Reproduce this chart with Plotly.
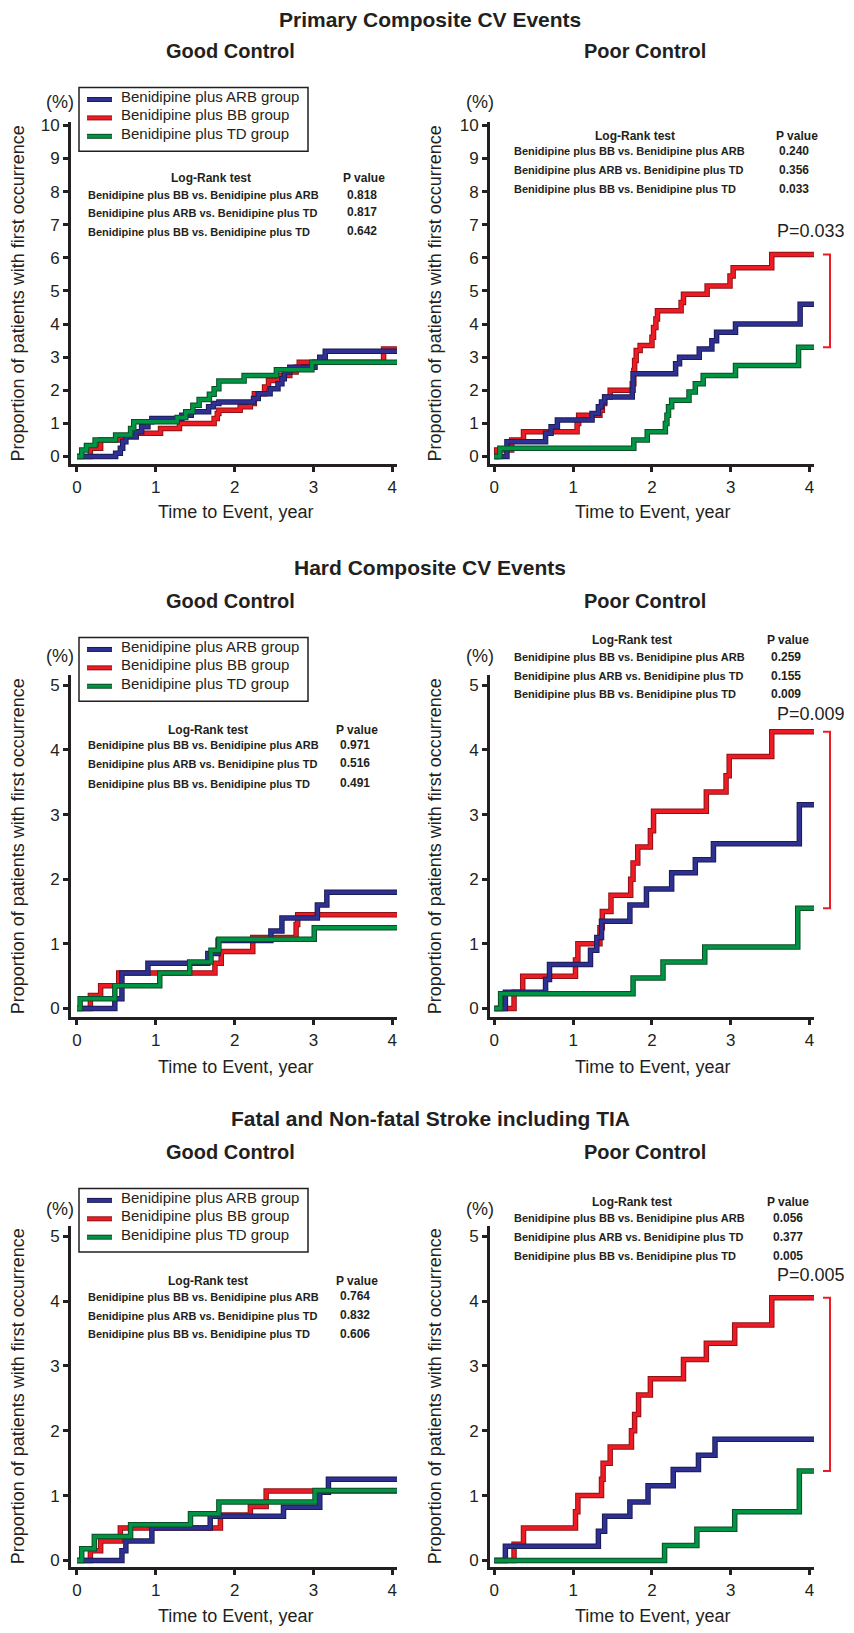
import plotly.graph_objects as go

# Reference canvas is 854 x 1633; the page body adds an 8 px margin, so the
# figure itself is made 8 px smaller and every position is shifted by 8 px.
REF_W, REF_H = 854, 1633
OFF = 8
FIG_W, FIG_H = REF_W - OFF, REF_H - OFF
FONT = "Liberation Sans, Arial, Helvetica, sans-serif"
INK = "#231f20"

# ---------------- data (years, cumulative % with first occurrence) ----------------
END_TIME = 4.07
GROUPS = ["Benidipine plus ARB group", "Benidipine plus BB group", "Benidipine plus TD group"]

# Primary composite CV events - Good control
prim_good_arb_t = [0, 0.49, 0.55, 0.58, 0.62, 0.75, 0.82, 0.90, 0.95, 1.33, 1.45, 1.67, 1.73, 1.80, 2.24, 2.30, 2.45, 2.55, 2.60, 2.63, 2.70, 3.02, 3.08, 3.15]
prim_good_arb_y = [0, 0.10, 0.25, 0.45, 0.60, 0.75, 0.90, 1.05, 1.15, 1.25, 1.35, 1.50, 1.60, 1.65, 1.75, 1.90, 2.05, 2.20, 2.35, 2.55, 2.70, 2.85, 3.00, 3.18]
prim_good_bb_t = [0, 0.17, 0.30, 0.53, 0.75, 1.06, 1.30, 1.74, 1.78, 1.80, 2.07, 2.20, 2.25, 2.38, 2.43, 2.56, 2.70, 2.78, 2.82, 3.89]
prim_good_bb_y = [0, 0.25, 0.50, 0.60, 0.70, 0.85, 1.00, 1.15, 1.30, 1.40, 1.50, 1.60, 1.90, 2.10, 2.30, 2.45, 2.55, 2.70, 2.85, 3.25]
prim_good_td_t = [0, 0.06, 0.12, 0.23, 0.49, 0.68, 0.72, 1.27, 1.38, 1.47, 1.55, 1.68, 1.74, 1.80, 2.12, 2.53, 2.98]
prim_good_td_y = [0, 0.20, 0.33, 0.50, 0.65, 0.85, 1.05, 1.18, 1.35, 1.55, 1.72, 1.88, 2.05, 2.28, 2.45, 2.62, 2.85]

# Primary composite CV events - Poor control
prim_poor_arb_t = [0, 0.16, 0.65, 0.72, 0.80, 1.24, 1.32, 1.36, 1.40, 1.75, 1.76, 2.30, 2.35, 2.60, 2.76, 2.82, 3.06, 3.88]
prim_poor_arb_y = [0, 0.45, 0.70, 0.90, 1.10, 1.30, 1.50, 1.65, 1.80, 2.00, 2.50, 2.80, 3.00, 3.25, 3.50, 3.75, 4.00, 4.60]
prim_poor_bb_t = [0, 0.03, 0.22, 0.37, 1.05, 1.07, 1.34, 1.37, 1.40, 1.47, 1.75, 1.77, 1.78, 1.80, 1.85, 2.00, 2.02, 2.05, 2.07, 2.37, 2.40, 2.70, 2.99, 3.03, 3.52]
prim_poor_bb_y = [0, 0.20, 0.50, 0.75, 1.00, 1.25, 1.40, 1.60, 1.80, 2.00, 2.20, 2.60, 2.90, 3.20, 3.35, 3.60, 3.90, 4.15, 4.40, 4.65, 4.90, 5.15, 5.45, 5.70, 6.10]
prim_poor_td_t = [0, 0.07, 1.77, 1.94, 2.17, 2.19, 2.21, 2.25, 2.47, 2.55, 2.65, 3.06, 3.86]
prim_poor_td_y = [0, 0.25, 0.50, 0.75, 1.00, 1.25, 1.50, 1.70, 1.95, 2.20, 2.45, 2.75, 3.30]

# Hard composite CV events - Good control
hard_good_arb_t = [0, 0.48, 0.57, 0.90, 1.66, 1.79, 2.46, 2.60, 3.05, 3.17]
hard_good_arb_y = [0, 0.15, 0.55, 0.70, 0.85, 1.05, 1.20, 1.40, 1.60, 1.80]
hard_good_bb_t = [0, 0.17, 0.30, 0.53, 1.75, 1.83, 2.23, 2.78, 2.80]
hard_good_bb_y = [0, 0.20, 0.35, 0.55, 0.70, 0.88, 1.10, 1.30, 1.45]
hard_good_td_t = [0, 0.04, 0.48, 1.05, 1.43, 1.70, 1.80, 3.01]
hard_good_td_y = [0, 0.15, 0.35, 0.55, 0.72, 0.90, 1.07, 1.25]

# Hard composite CV events - Poor control
hard_poor_arb_t = [0, 0.14, 0.65, 0.70, 1.22, 1.30, 1.36, 1.72, 1.93, 2.25, 2.55, 2.78, 3.87]
hard_poor_arb_y = [0, 0.25, 0.45, 0.68, 0.90, 1.10, 1.35, 1.60, 1.85, 2.10, 2.30, 2.55, 3.15]
hard_poor_bb_t = [0, 0.25, 0.36, 1.03, 1.06, 1.34, 1.37, 1.48, 1.73, 1.76, 1.82, 1.98, 2.02, 2.69, 2.94, 2.98, 3.52]
hard_poor_bb_y = [0, 0.25, 0.50, 0.75, 1.00, 1.25, 1.50, 1.75, 2.00, 2.25, 2.50, 2.75, 3.05, 3.35, 3.60, 3.90, 4.28]
hard_poor_td_t = [0, 0.08, 1.76, 2.14, 2.67, 3.85]
hard_poor_td_y = [0, 0.23, 0.47, 0.72, 0.95, 1.55]

# Fatal and non-fatal stroke including TIA - Good control
strk_good_arb_t = [0, 0.57, 0.62, 0.95, 1.69, 2.62, 3.08, 3.19]
strk_good_arb_y = [0, 0.15, 0.30, 0.50, 0.68, 0.82, 1.05, 1.25]
strk_good_bb_t = [0, 0.17, 0.30, 0.55, 1.82, 2.20, 2.40]
strk_good_bb_y = [0, 0.15, 0.30, 0.50, 0.70, 0.83, 1.07]
strk_good_td_t = [0, 0.06, 0.22, 0.68, 1.44, 1.80, 3.02]
strk_good_td_y = [0, 0.18, 0.37, 0.55, 0.72, 0.90, 1.08]

# Fatal and non-fatal stroke including TIA - Poor control
strk_poor_arb_t = [0, 0.14, 1.32, 1.40, 1.72, 1.95, 2.27, 2.59, 2.80]
strk_poor_arb_y = [0, 0.22, 0.45, 0.68, 0.90, 1.15, 1.40, 1.62, 1.87]
strk_poor_bb_t = [0, 0.25, 0.37, 1.03, 1.06, 1.36, 1.38, 1.47, 1.74, 1.78, 1.83, 1.98, 2.40, 2.69, 3.05, 3.52]
strk_poor_bb_y = [0, 0.25, 0.50, 0.75, 1.00, 1.25, 1.50, 1.75, 2.00, 2.25, 2.55, 2.80, 3.10, 3.35, 3.63, 4.05]
strk_poor_td_t = [0, 2.16, 2.57, 3.05, 3.87]
strk_poor_td_y = [0, 0.23, 0.48, 0.75, 1.38]

# Log-rank tables
COMPARISONS = ["Benidipine plus BB vs. Benidipine plus ARB",
               "Benidipine plus ARB vs. Benidipine plus TD",
               "Benidipine plus BB vs. Benidipine plus TD"]
prim_good_p = ["0.818", "0.817", "0.642"]
prim_poor_p = ["0.240", "0.356", "0.033"]
hard_good_p = ["0.971", "0.516", "0.491"]
hard_poor_p = ["0.259", "0.155", "0.009"]
strk_good_p = ["0.764", "0.832", "0.606"]
strk_poor_p = ["0.056", "0.377", "0.005"]

SECTION_TITLES = ["Primary Composite CV Events", "Hard Composite CV Events",
                  "Fatal and Non-fatal Stroke including TIA"]
SUBTITLES = ["Good Control", "Poor Control"]
Y_TICKS_PRIMARY = list(range(0, 11))
Y_TICKS_OTHER = list(range(0, 6))
X_TICKS = [0, 1, 2, 3, 4]

# ---------------- styling ----------------
COL = {"ARB": "#2e3192", "BB": "#ed1c24", "TD": "#009444"}
DARK = {"ARB": "#1b1b55", "BB": "#8e1116", "TD": "#0b4d25"}
NAME = {"ARB": GROUPS[0], "BB": GROUPS[1], "TD": GROUPS[2]}


def px_x(px):
    return (px - OFF) / FIG_W


def px_y(py):
    return 1 - (py - OFF) / FIG_H


panels = [
    dict(c={"BB": (prim_good_bb_t, prim_good_bb_y), "ARB": (prim_good_arb_t, prim_good_arb_y), "TD": (prim_good_td_t, prim_good_td_y)},
         xd=(71, 397), xr=[-0.076, 4.06], yd=(117, 461), yr=[-0.24, 10.09], yt=Y_TICKS_PRIMARY, leg=(79, 82)),
    dict(c={"BB": (prim_poor_bb_t, prim_poor_bb_y), "ARB": (prim_poor_arb_t, prim_poor_arb_y), "TD": (prim_poor_td_t, prim_poor_td_y)},
         xd=(490, 814), xr=[-0.055, 4.056], yd=(117, 461), yr=[-0.24, 10.09], yt=Y_TICKS_PRIMARY, leg=None),
    dict(c={"BB": (hard_good_bb_t, hard_good_bb_y), "ARB": (hard_good_arb_t, hard_good_arb_y), "TD": (hard_good_td_t, hard_good_td_y)},
         xd=(71, 397), xr=[-0.076, 4.06], yd=(673, 1017), yr=[-0.138, 5.154], yt=Y_TICKS_OTHER, leg=(79, 635)),
    dict(c={"BB": (hard_poor_bb_t, hard_poor_bb_y), "ARB": (hard_poor_arb_t, hard_poor_arb_y), "TD": (hard_poor_td_t, hard_poor_td_y)},
         xd=(490, 814), xr=[-0.055, 4.056], yd=(673, 1017), yr=[-0.138, 5.154], yt=Y_TICKS_OTHER, leg=None),
    dict(c={"BB": (strk_good_bb_t, strk_good_bb_y), "ARB": (strk_good_arb_t, strk_good_arb_y), "TD": (strk_good_td_t, strk_good_td_y)},
         xd=(71, 397), xr=[-0.076, 4.06], yd=(1227, 1570), yr=[-0.107, 5.153], yt=Y_TICKS_OTHER, leg=(79, 1189)),
    dict(c={"BB": (strk_poor_bb_t, strk_poor_bb_y), "ARB": (strk_poor_arb_t, strk_poor_arb_y), "TD": (strk_poor_td_t, strk_poor_td_y)},
         xd=(490, 814), xr=[-0.055, 4.056], yd=(1227, 1570), yr=[-0.107, 5.153], yt=Y_TICKS_OTHER, leg=None),
]

fig = go.Figure()
layout = dict(width=FIG_W, height=FIG_H, margin=dict(l=0, r=0, t=0, b=0),
              paper_bgcolor="white", plot_bgcolor="white",
              font=dict(family=FONT, color=INK), showlegend=False)

axis_common = dict(showline=True, linewidth=3, linecolor=INK, ticks="outside",
                   ticklen=5, tickwidth=2.5, tickcolor=INK, showgrid=False,
                   zeroline=False, tickfont=dict(size=17, family=FONT, color=INK))

annotations = []
shapes = []


def ann(px, py, text, size, xanchor="center", angle=0, color=INK):
    # shift up slightly so that the visual centre of the glyphs sits at py
    dy = 0 if angle else 0.2 * size
    annotations.append(dict(x=px_x(px), y=px_y(py - dy), xref="paper", yref="paper", text=text,
                            showarrow=False, xanchor=xanchor, yanchor="middle", textangle=angle,
                            borderpad=0, font=dict(size=size, family=FONT, color=color)))


def legend_box(left, top):
    right, bottom = 308, top + 64
    shapes.append(dict(type="rect", xref="paper", yref="paper", x0=px_x(left), x1=px_x(right),
                       y0=px_y(bottom), y1=px_y(top), line=dict(color=INK, width=1.5),
                       fillcolor="white", layer="above"))
    for k, g in enumerate(["ARB", "BB", "TD"]):
        yy = top + 12 + 18.5 * k
        for colr, wid in ((DARK[g], 5), (COL[g], 3)):
            shapes.append(dict(type="line", xref="paper", yref="paper", x0=px_x(left + 8), x1=px_x(left + 33),
                               y0=px_y(yy), y1=px_y(yy), line=dict(color=colr, width=wid), layer="above"))
        ann(left + 41, yy, NAME[g], 15, xanchor="left")


for i, p in enumerate(panels):
    n = "" if i == 0 else str(i + 1)
    xa, ya = "x" + n, "y" + n
    layout["xaxis" + n] = dict(axis_common, domain=[px_x(p["xd"][0]), px_x(p["xd"][1])],
                               range=p["xr"], tickvals=X_TICKS, anchor=ya,
                               ticklabelstandoff=0)
    layout["yaxis" + n] = dict(axis_common, domain=[px_y(p["yd"][1]), px_y(p["yd"][0])],
                               range=p["yr"], tickvals=p["yt"], anchor=xa)
    for g in ["BB", "ARB", "TD"]:
        t, y = p["c"][g]
        xs = list(t) + [END_TIME]
        ys = list(y) + [y[-1]]
        fig.add_trace(go.Scatter(x=xs, y=ys, mode="lines", line=dict(shape="hv", color=DARK[g], width=5.5),
                                 xaxis=xa, yaxis=ya, showlegend=False, hoverinfo="skip"))
        fig.add_trace(go.Scatter(x=xs, y=ys, mode="lines", line=dict(shape="hv", color=COL[g], width=3.5),
                                 xaxis=xa, yaxis=ya, name=NAME[g], showlegend=False))
    if p["leg"]:
        legend_box(*p["leg"])

row_off = [0, 551, 1105]
row_y_centers = [289, 845, 1398]
row_x_title = [512, 1070, 1623]
row_pct = [100, 657, 1213]
for r in range(3):
    off = row_off[r]
    ann(430, 18 + off, "<b>" + SECTION_TITLES[r] + "</b>", 21)
    ann(230, 49 + off + (2 if r else 0), "<b>" + SUBTITLES[0] + "</b>", 20)
    ann(645, 49 + off + (2 if r else 0), "<b>" + SUBTITLES[1] + "</b>", 20)
    ann(60, row_pct[r], "(%)", 18)
    ann(480, row_pct[r], "(%)", 18)
    ann(18, row_y_centers[r], "Proportion of patients with first occurrence", 18, angle=-90)
    ann(435, row_y_centers[r], "Proportion of patients with first occurrence", 18, angle=-90)
    ann(235, row_x_title[r], "Time to Event, year", 18)
    ann(652, row_x_title[r], "Time to Event, year", 18)

tables = [
    (prim_good_p, 175, [192, 210, 229], 211, 364, 362, 87),
    (prim_poor_p, 133, [148, 167, 186], 635, 797, 794, 513),
    (hard_good_p, 730, [745, 764, 784], 208, 357, 355, 87),
    (hard_poor_p, 640, [657, 676, 694], 632, 788, 786, 513),
    (strk_good_p, 1284, [1300, 1319, 1338], 208, 357, 355, 87),
    (strk_poor_p, 1205, [1221, 1240, 1259], 632, 788, 788, 513),
]
for pv, hy, rys, hx, phx, vx, lx in tables:
    ann(hx, hy, "<b>Log-Rank test</b>", 12)
    ann(phx, hy, "<b>P value</b>", 12)
    for comp, val, ry in zip(COMPARISONS, pv, rys):
        ann(lx, ry, "<b>" + comp + "</b>", 11, xanchor="left")
        ann(vx, ry, "<b>" + val + "</b>", 12)

# BB vs TD significance brackets on the Poor Control panels
sig = [
    (prim_poor_p[2], "y2", prim_poor_bb_y[-1], prim_poor_td_y[-1], 230),
    (hard_poor_p[2], "y4", hard_poor_bb_y[-1], hard_poor_td_y[-1], 716),
    (strk_poor_p[2], "y6", strk_poor_bb_y[-1], strk_poor_td_y[-1], 1280),
]
for pval, yref, ytop, ybot, ty in sig:
    x0, x1 = px_x(823), px_x(830)
    shapes.append(dict(type="path", xref="paper", yref=yref,
                       path=f"M {x0},{ytop} L {x1},{ytop} L {x1},{ybot} L {x0},{ybot}",
                       line=dict(color=COL["BB"], width=2)))
    ann(776, ty, "P=" + pval, 18, xanchor="left")

layout["annotations"] = annotations
layout["shapes"] = shapes
fig.update_layout(**layout)
fig.write_html("out.html")
